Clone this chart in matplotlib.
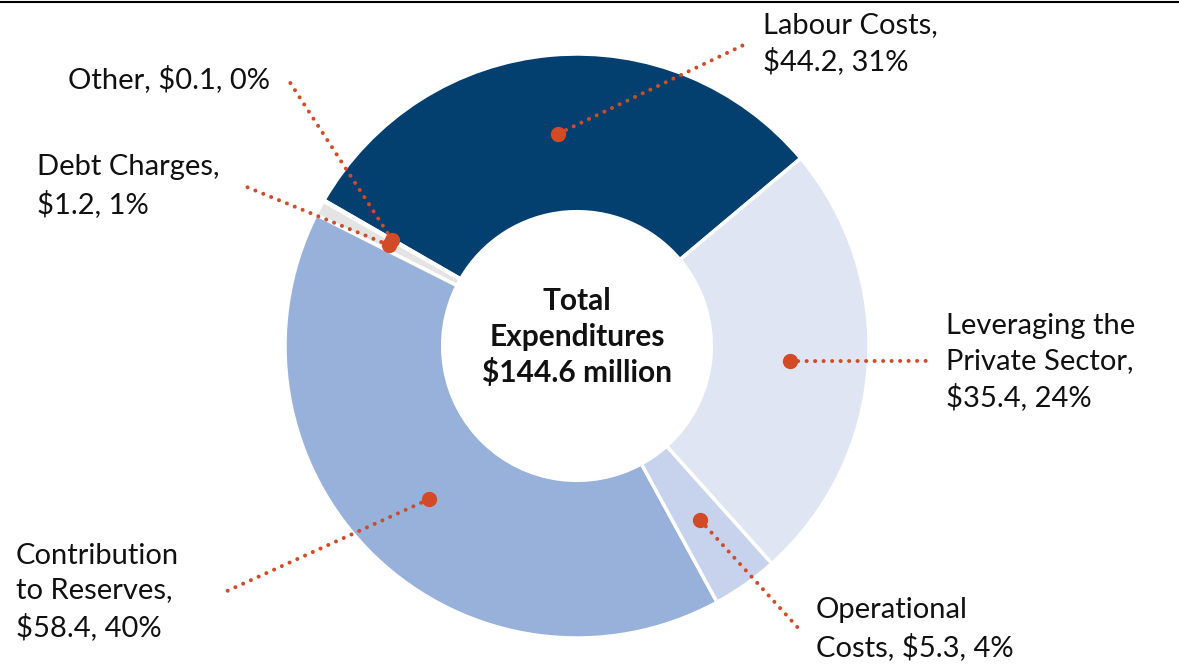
import numpy as np
import matplotlib
matplotlib.use('Agg')
import matplotlib.pyplot as plt
from matplotlib.lines import Line2D

plt.rcParams['font.family'] = ['Lato', 'DejaVu Sans']

# data, counter-clockwise from the Labour / Leveraging boundary
categories = ['Labour Costs', 'Other', 'Debt Charges', 'Contribution\nto Reserves',
              'Operational\nCosts', 'Leveraging the\nPrivate Sector']
values = [44.2, 0.1, 1.2, 58.4, 5.3, 35.4]
labels = ['Labour Costs,\n$44.2, 31%', 'Other, $0.1, 0%', 'Debt Charges,\n$1.2, 1%',
          'Contribution\nto Reserves,\n$58.4, 40%', 'Operational\nCosts, $5.3, 4%',
          'Leveraging the\nPrivate Sector,\n$35.4, 24%']
colors = ['#033F6F', '#BFBFBF', '#E4E4E4', '#98B1DB', '#C7D3EC', '#DFE5F3']
total_label = 'Total\nExpenditures\n$144.6 million'

# label layout (units of outer radius): leader end, text anchor, alignment
leader_end = [(0.592, 1.041), (-0.993, 0.918), (-1.147, 0.551),
              (-1.205, -0.842), (0.764, -0.973), (1.209, -0.051)]
text_pos = [(0.637, 1.036), (-1.051, 0.913), (-1.849, 0.547),
            (-1.921, -0.842), (0.818, -0.969), (1.264, -0.055)]
text_ha = ['left', 'right', 'left', 'left', 'left', 'left']

start = 40.0
inner = 0.46
dot_col = '#D24B27'

fig = plt.figure(figsize=(11.79, 6.64), dpi=100)
ax = fig.add_axes([0, 0, 1, 1])

wedges, _ = ax.pie(values, colors=colors, startangle=start, counterclock=True,
                   radius=1.0, wedgeprops=dict(width=1 - inner, edgecolor='white', linewidth=2.5))

# leader lines with dots at mid-ring
mid_r = (1 + inner) / 2
cum = np.cumsum([0] + values)
for i, v in enumerate(values):
    ang = np.deg2rad(start + (cum[i] + v / 2) / cum[-1] * 360)
    px, py = mid_r * np.cos(ang), mid_r * np.sin(ang)
    ex, ey = leader_end[i]
    ax.plot([px, ex], [py, ey], color=dot_col, lw=2.9,
            linestyle=(0, (0.01, 2.1)), dash_capstyle='round', zorder=3)
    ax.plot(px, py, 'o', color=dot_col, markersize=10, zorder=4)
    ax.text(text_pos[i][0], text_pos[i][1], labels[i], ha=text_ha[i], va='center',
            fontsize=21, color='#111111', linespacing=1.42)

ax.text(0, 0.03, total_label, ha='center', va='center', fontsize=21.5,
        fontweight='bold', color='#111111', linespacing=1.32)

# axis limits place the ring centre at (577, 346) px with radius 292 px
r_px = 292.0
ax.set_xlim(-577 / r_px, (1179 - 577) / r_px)
ax.set_ylim(-(664 - 346) / r_px, 346 / r_px)
ax.set_aspect('auto')
ax.axis('off')

fig.add_artist(Line2D([0, 1], [0.997, 0.997], color='black', lw=1.5,
                      transform=fig.transFigure))

fig.savefig('out.png', dpi=100)
